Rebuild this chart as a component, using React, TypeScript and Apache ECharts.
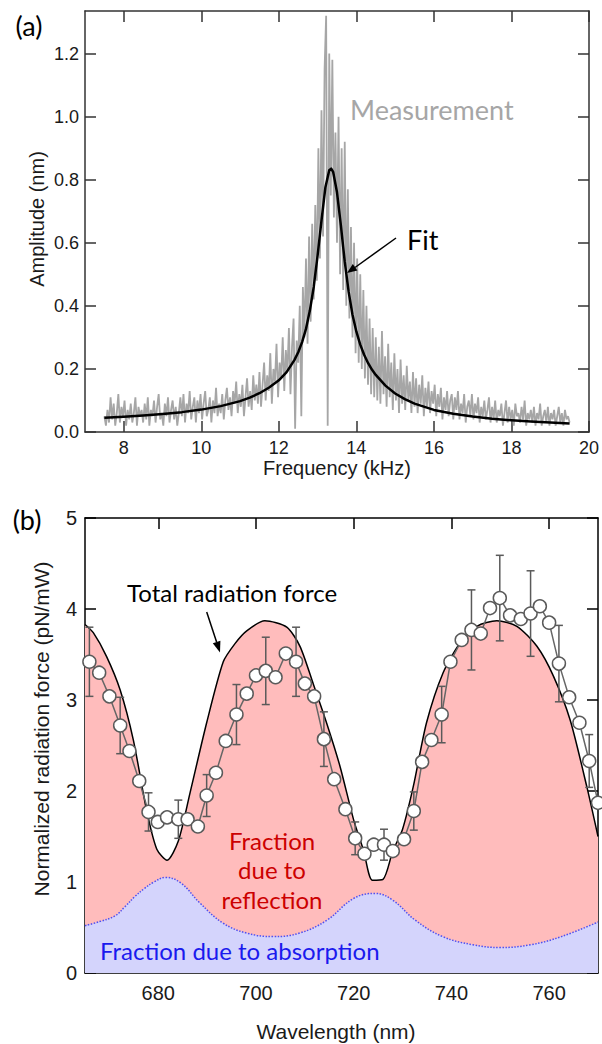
import React, { useEffect, useRef } from "react";
import * as echarts from "echarts";

// ---------------- Panel (a): resonance spectrum ----------------
const MEAS_START_KHZ = 7.5;
const MEAS_STEP_KHZ = 0.04;
// measured amplitude (nm), one value every 0.04 kHz from 7.5 to 19.5 kHz
const measAmp = [
  0.05, 0.02, 0.07, 0.03, 0.11, 0.04, 0.09, 0.02, 0.06, 0.12, 0.03, 0.08, 0.05, 0.10, 0.02, 0.07, 0.04, 0.09, 0.03, 0.06, 0.11, 0.02, 0.08, 0.05, 0.07,
  0.03, 0.09, 0.04, 0.11, 0.02, 0.07, 0.05, 0.10, 0.03, 0.08, 0.12, 0.04, 0.06, 0.02, 0.09, 0.05, 0.11, 0.03, 0.07, 0.10, 0.04, 0.08, 0.02, 0.06, 0.11,
  0.05, 0.12, 0.03, 0.09, 0.06, 0.13, 0.04, 0.08, 0.11, 0.03, 0.10, 0.06, 0.12, 0.04, 0.09, 0.13, 0.05, 0.07, 0.11, 0.03, 0.10, 0.06, 0.14, 0.05, 0.09,
  0.06, 0.12, 0.04, 0.10, 0.14, 0.07, 0.11, 0.05, 0.13, 0.09, 0.16, 0.06, 0.12, 0.08, 0.15, 0.05, 0.11, 0.17, 0.08, 0.13, 0.07, 0.18, 0.10, 0.15, 0.09,
  0.19, 0.08, 0.15, 0.22, 0.10, 0.18, 0.13, 0.25, 0.09, 0.20, 0.16, 0.28, 0.11, 0.22, 0.17, 0.30, 0.13, 0.26, 0.19, 0.33, 0.12, 0.27, 0.36, 0.01, 0.29,
  0.22, 0.40, 0.05, 0.46, 0.30, 0.55, 0.28, 0.62, 0.35, 0.66, 0.42, 0.72, 0.48, 0.90, 0.55, 1.02, 0.62, 1.15, 1.32, 0.02, 1.20, 0.75, 1.18, 0.68, 0.95,
  0.60, 1.00, 0.50, 0.90, 0.45, 0.92, 0.40, 0.77, 0.36, 0.65, 0.30, 0.60, 0.25, 0.55, 0.22, 0.50, 0.20, 0.45, 0.17, 0.40, 0.15, 0.36, 0.12, 0.33, 0.11,
  0.30, 0.10, 0.27, 0.09, 0.32, 0.12, 0.24, 0.08, 0.28, 0.11, 0.22, 0.07, 0.25, 0.10, 0.20, 0.06, 0.23, 0.09, 0.18, 0.07, 0.21, 0.10, 0.16, 0.06, 0.19,
  0.08, 0.17, 0.06, 0.15, 0.09, 0.18, 0.05, 0.14, 0.08, 0.16, 0.06, 0.13, 0.09, 0.15, 0.05, 0.12, 0.08, 0.14, 0.04, 0.11, 0.07, 0.13, 0.05, 0.10, 0.12,
  0.04, 0.11, 0.07, 0.13, 0.04, 0.09, 0.06, 0.12, 0.03, 0.08, 0.10, 0.05, 0.12, 0.04, 0.09, 0.06, 0.11, 0.03, 0.08, 0.05, 0.10, 0.04, 0.07, 0.11, 0.03,
  0.08, 0.04, 0.10, 0.03, 0.07, 0.05, 0.09, 0.02, 0.06, 0.10, 0.03, 0.08, 0.04, 0.07, 0.02, 0.09, 0.05, 0.06, 0.03, 0.08, 0.04, 0.10, 0.02, 0.06, 0.04,
  0.07, 0.03, 0.08, 0.02, 0.06, 0.04, 0.09, 0.02, 0.05, 0.07, 0.03, 0.08, 0.02, 0.06, 0.04, 0.07, 0.02, 0.05, 0.08, 0.03, 0.06, 0.02, 0.07, 0.04, 0.05, 0.03,
];
const fitFreq = [7.5, 8.0, 8.5, 9.0, 9.5, 10.0, 10.5, 11.0, 11.25, 11.5, 11.75, 12.0, 12.2, 12.4, 12.5, 12.6, 12.7, 12.8, 12.9, 13.0, 13.1, 13.2, 13.3, 13.35, 13.4, 13.5, 13.6, 13.7, 13.8, 13.9, 14.0, 14.1, 14.2, 14.3, 14.4, 14.5, 14.75, 15.0, 15.25, 15.5, 16.0, 16.5, 17.0, 17.5, 18.0, 18.5, 19.0, 19.5];
const fitAmp = [0.045, 0.048, 0.052, 0.057, 0.063, 0.071, 0.082, 0.098, 0.109, 0.123, 0.141, 0.164, 0.19, 0.228, 0.253, 0.285, 0.327, 0.385, 0.46, 0.56, 0.67, 0.775, 0.83, 0.835, 0.825, 0.76, 0.655, 0.54, 0.445, 0.372, 0.318, 0.277, 0.245, 0.219, 0.198, 0.181, 0.147, 0.122, 0.104, 0.09, 0.07, 0.058, 0.049, 0.042, 0.037, 0.033, 0.03, 0.027];
const freqTicks = [8, 10, 12, 14, 16, 18, 20];
const ampTicks = [0, 0.2, 0.4, 0.6, 0.8, 1.0, 1.2];

// ---------------- Panel (b): radiation force ----------------
const totalWl = [665, 666.7, 669.4, 672.2, 674.9, 677.6, 679.7, 681.8, 684.1, 686.5, 689.9, 693.3, 695.7, 698.1, 701.8, 706.3, 709.0, 711.7, 714.5, 717.2, 720.0, 722.0, 723.8, 726.0, 728.0, 730.0, 732.2, 734.9, 738.3, 741.8, 745.2, 749.3, 753.4, 757.5, 760.9, 764.3, 767.7, 770];
const totalForce = [3.83, 3.74, 3.48, 3.11, 2.56, 1.79, 1.36, 1.24, 1.45, 1.98, 2.75, 3.42, 3.62, 3.76, 3.87, 3.80, 3.59, 3.18, 2.74, 2.27, 1.68, 1.35, 1.02, 1.03, 1.34, 1.58, 2.05, 2.75, 3.30, 3.63, 3.81, 3.87, 3.81, 3.59, 3.26, 2.78, 2.05, 1.50];
const absWl = [665, 668, 671.2, 673.2, 675.2, 677.2, 679.1, 681.5, 684.6, 688.5, 693.2, 698, 703.5, 709, 714.5, 720, 724.4, 728, 732.6, 738.2, 744.4, 749.9, 756.2, 762.5, 770];
const absForce = [0.52, 0.565, 0.63, 0.73, 0.84, 0.93, 1.0, 1.05, 0.99, 0.77, 0.55, 0.44, 0.40, 0.44, 0.58, 0.82, 0.875, 0.80, 0.58, 0.40, 0.31, 0.28, 0.31, 0.40, 0.56];
const dataWl = [665.9, 667.9, 670.0, 672.2, 674.1, 676.1, 678.0, 679.9, 681.8, 684.1, 686.0, 688.1, 689.9, 691.8, 693.8, 696.0, 698.1, 700.0, 702.0, 704.0, 706.1, 708.2, 710.0, 711.9, 713.9, 716.0, 718.3, 720.3, 722.2, 724.1, 726.2, 728.0, 730.3, 732.3, 734.0, 735.9, 738.0, 739.8, 742.1, 744.1, 746.0, 747.9, 749.9, 752.0, 754.2, 756.2, 758.1, 760.0, 762.0, 764.1, 766.2, 768.2, 770.0];
const dataForce = [3.42, 3.30, 3.04, 2.72, 2.44, 2.11, 1.77, 1.66, 1.71, 1.69, 1.69, 1.61, 1.95, 2.20, 2.55, 2.84, 3.07, 3.27, 3.32, 3.25, 3.51, 3.42, 3.18, 3.04, 2.57, 2.13, 1.80, 1.48, 1.31, 1.41, 1.41, 1.34, 1.47, 1.78, 2.32, 2.56, 2.84, 3.42, 3.66, 3.77, 3.73, 4.01, 4.12, 3.93, 3.89, 3.95, 4.03, 3.85, 3.40, 3.03, 2.75, 2.33, 1.87];
const dataErr = [0.38, null, null, 0.31, null, null, 0.21, null, null, 0.21, null, null, 0.23, null, null, 0.33, null, null, 0.37, null, null, 0.38, null, null, 0.30, null, null, 0.18, null, null, 0.17, null, null, 0.21, null, null, 0.31, null, null, 0.44, null, null, 0.47, null, null, 0.47, null, null, 0.42, null, null, 0.29, null];
const wlTicks = [680, 700, 720, 740, 760];
const forceTicks = [0, 1, 2, 3, 4, 5];

const ARIAL = "Arial, 'Liberation Sans', sans-serif";
const CAL = "Lato, 'Open Sans', sans-serif";

function axis(gridIndex: number, min: number, max: number, ticks: number[], position: string, showLabel: boolean, color: string, fontSize: number, margin: number, fmt?: (v: number) => string) {
  return {
    type: "value",
    gridIndex,
    min,
    max,
    position,
    splitLine: { show: false },
    axisLine: { show: true, onZero: false, lineStyle: { color, width: 1.5 } },
    axisTick: { show: true, inside: true, length: 11, customValues: ticks, lineStyle: { color, width: 1.5 } },
    axisLabel: {
      show: showLabel,
      customValues: ticks,
      margin,
      color: "#1a1a1a",
      fontSize,
      fontFamily: ARIAL,
      formatter: fmt ? (v: number) => fmt(v) : undefined,
    },
  } as any;
}

export default function App() {
  const ref = useRef<HTMLDivElement>(null);
  useEffect(() => {
    const chart = echarts.init(ref.current!, undefined, { renderer: "svg" });
    const measData = measAmp.map((a, i) => [+(MEAS_START_KHZ + i * MEAS_STEP_KHZ).toFixed(2), a]);
    const fitData = fitFreq.map((f, i) => [f, fitAmp[i]]);
    const totalData = totalWl.map((w, i) => [w, totalForce[i]]);
    const absData = absWl.map((w, i) => [w, absForce[i]]);
    const ptsData = dataWl.map((w, i) => [w, dataForce[i]]);
    const errData = dataWl
      .map((w, i) => (dataErr[i] == null ? null : [w, dataForce[i], dataErr[i]]))
      .filter((d) => d != null);

    const option: any = {
      animation: false,
      backgroundColor: "#ffffff",
      grid: [
        { left: 85, top: 11, width: 508, height: 421 },
        { left: 85, top: 518, width: 513, height: 455 },
      ],
      xAxis: [
        axis(0, 7, 20, freqTicks, "bottom", true, "#333", 18, 7),
        axis(0, 7, 20, freqTicks, "top", false, "#333", 18, 7),
        axis(1, 665, 770, wlTicks, "bottom", true, "#000", 20, 10),
        axis(1, 665, 770, wlTicks, "top", false, "#000", 20, 10),
      ],
      yAxis: [
        axis(0, 0, 1.335, ampTicks, "left", true, "#333", 18, 6, (v) => v.toFixed(1)),
        axis(0, 0, 1.335, ampTicks, "right", false, "#333", 18, 6),
        axis(1, 0, 5, forceTicks, "left", true, "#000", 20, 8),
        axis(1, 0, 5, forceTicks, "right", false, "#000", 20, 8),
      ],
      series: [
        {
          name: "Measurement",
          type: "line",
          xAxisIndex: 0,
          yAxisIndex: 0,
          data: measData,
          showSymbol: false,
          lineStyle: { color: "#a6a6a6", width: 1.8 },
          z: 1,
        },
        {
          name: "Fit",
          type: "line",
          xAxisIndex: 0,
          yAxisIndex: 0,
          data: fitData,
          smooth: false,
          showSymbol: false,
          lineStyle: { color: "#000", width: 2.5, join: "round" },
          z: 2,
        },
        {
          name: "Total",
          type: "line",
          xAxisIndex: 2,
          yAxisIndex: 2,
          data: totalData,
          smooth: 0.25,
          showSymbol: false,
          lineStyle: { color: "#000", width: 1.5 },
          areaStyle: { color: "#ffbcbc", opacity: 1 },
          z: 1,
        },
        {
          name: "Absorption",
          type: "line",
          xAxisIndex: 2,
          yAxisIndex: 2,
          data: absData,
          smooth: 0.4,
          showSymbol: false,
          lineStyle: { color: "#5050f0", width: 1.5, type: "dotted" },
          areaStyle: { color: "#d4d4fc", opacity: 1 },
          z: 2,
        },
        {
          name: "Error",
          type: "custom",
          xAxisIndex: 2,
          yAxisIndex: 2,
          data: errData,
          encode: { x: 0, y: 1 },
          renderItem: (params: any, api: any) => {
            const x = api.value(0);
            const y = api.value(1);
            const e = api.value(2);
            const t = api.coord([x, y + e]);
            const b = api.coord([x, y - e]);
            const hw = 4;
            const st = { stroke: "#5a5a5a", lineWidth: 1.5 };
            return {
              type: "group",
              children: [
                { type: "line", shape: { x1: t[0], y1: t[1], x2: b[0], y2: b[1] }, style: st },
                { type: "line", shape: { x1: t[0] - hw, y1: t[1], x2: t[0] + hw, y2: t[1] }, style: st },
                { type: "line", shape: { x1: b[0] - hw, y1: b[1], x2: b[0] + hw, y2: b[1] }, style: st },
              ],
            };
          },
          z: 3,
        },
        {
          name: "Data",
          type: "line",
          xAxisIndex: 2,
          yAxisIndex: 2,
          data: ptsData,
          symbol: "circle",
          symbolSize: 13,
          showAllSymbol: true,
          itemStyle: { color: "#ffffff", borderColor: "#5a5a5a", borderWidth: 1.5 },
          lineStyle: { color: "#666", width: 1.5 },
          z: 4,
        },
      ],
      graphic: [
        { type: "text", x: 29, y: 25, z: 100, style: { text: "(a)", fill: "#000", fontSize: 27, fontFamily: CAL, align: "center", verticalAlign: "middle" } },
        { type: "text", x: 350, y: 109, z: 100, style: { text: "Measurement", fill: "#a6a6a6", fontSize: 27, fontFamily: CAL, align: "left", verticalAlign: "middle" } },
        { type: "text", x: 407, y: 239, z: 100, style: { text: "Fit", fill: "#000", fontSize: 27, fontFamily: CAL, align: "left", verticalAlign: "middle" } },
        { type: "line", z: 100, shape: { x1: 396, y1: 238, x2: 355, y2: 267.5 }, style: { stroke: "#000", lineWidth: 1.5 } },
        { type: "polygon", z: 100, shape: { points: [[347, 273], [357.4, 270.4], [352.8, 263.9]] }, style: { fill: "#000" } },
        { type: "text", x: 37, y: 219, rotation: Math.PI / 2, z: 100, style: { text: "Amplitude (nm)", fill: "#1a1a1a", fontSize: 20, fontFamily: ARIAL, align: "center", verticalAlign: "middle" } },
        { type: "text", x: 337, y: 468, z: 100, style: { text: "Frequency (kHz)", fill: "#1a1a1a", fontSize: 20, fontFamily: ARIAL, align: "center", verticalAlign: "middle" } },

        { type: "text", x: 27, y: 519, z: 100, style: { text: "(b)", fill: "#000", fontSize: 27, fontFamily: CAL, align: "center", verticalAlign: "middle" } },
        { type: "text", x: 127, y: 592, z: 100, style: { text: "Total radiation force", fill: "#000", fontSize: 24, fontFamily: CAL, align: "left", verticalAlign: "middle" } },
        { type: "line", z: 100, shape: { x1: 206.7, y1: 612, x2: 216.6, y2: 642 }, style: { stroke: "#000", lineWidth: 1.5 } },
        { type: "polygon", z: 100, shape: { points: [[220, 652.5], [220.4, 640.8], [212.8, 643.3]] }, style: { fill: "#000" } },
        { type: "text", x: 272, y: 840, z: 100, style: { text: "Fraction", fill: "#cc0000", fontSize: 24, fontFamily: CAL, align: "center", verticalAlign: "middle" } },
        { type: "text", x: 272, y: 869.5, z: 100, style: { text: "due to", fill: "#cc0000", fontSize: 24, fontFamily: CAL, align: "center", verticalAlign: "middle" } },
        { type: "text", x: 272, y: 899, z: 100, style: { text: "reflection", fill: "#cc0000", fontSize: 24, fontFamily: CAL, align: "center", verticalAlign: "middle" } },
        { type: "text", x: 100, y: 950, z: 100, style: { text: "Fraction due to absorption", fill: "#1a1aee", fontSize: 24, fontFamily: CAL, align: "left", verticalAlign: "middle" } },
        { type: "text", x: 41, y: 729, rotation: Math.PI / 2, z: 100, style: { text: "Normalized radiation force (pN/mW)", fill: "#1a1a1a", fontSize: 21, fontFamily: ARIAL, align: "center", verticalAlign: "middle" } },
        { type: "text", x: 336, y: 1031, z: 100, style: { text: "Wavelength (nm)", fill: "#1a1a1a", fontSize: 21, fontFamily: ARIAL, align: "center", verticalAlign: "middle" } },
      ],
    };
    chart.setOption(option);
    return () => chart.dispose();
  }, []);
  return <div ref={ref} style={{ position: "absolute", left: 0, top: 0, width: 602, height: 1044 }} />;
}
